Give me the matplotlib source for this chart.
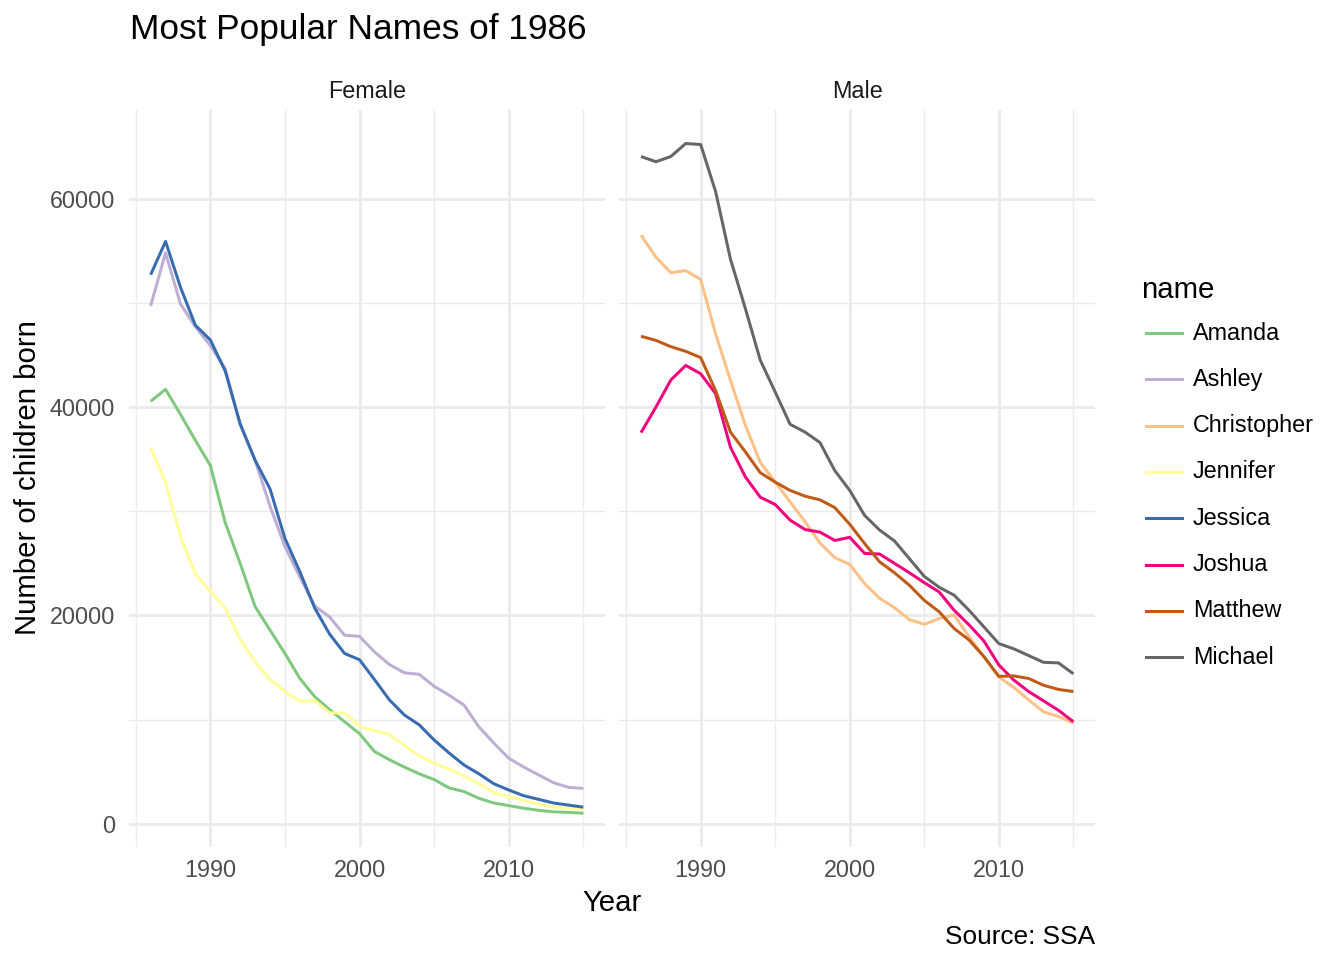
import matplotlib
matplotlib.use('Agg')
import matplotlib.pyplot as plt
from matplotlib.lines import Line2D
from matplotlib.ticker import FixedLocator

plt.rcParams['font.family'] = ['Liberation Sans', 'DejaVu Sans']

# --- data --------------------------------------------------------------
years = list(range(1986, 2016))

amanda = [40550, 41700, 39300, 36800, 34400, 28900, 25000, 20850, 18600, 16350,
          13950, 12200, 10950, 9800, 8650, 6950, 6150, 5450, 4800, 4250,
          3450, 3100, 2450, 2000, 1750, 1500, 1300, 1150, 1100, 1020]
ashley = [49700, 54800, 49900, 47700, 45900, 43700, 38300, 34900, 30500, 26600,
          23700, 20900, 19850, 18100, 18000, 16500, 15300, 14500, 14350, 13200,
          12350, 11400, 9300, 7750, 6300, 5450, 4700, 3950, 3500, 3400]
jennifer = [36100, 32800, 27600, 24000, 22300, 20700, 17700, 15550, 13850, 12700,
            11750, 11850, 10650, 10650, 9350, 8950, 8550, 7550, 6500, 5800,
            5250, 4600, 3850, 3000, 2600, 2250, 1900, 1600, 1500, 1400]
jessica = [52700, 55900, 51500, 47850, 46450, 43450, 38400, 34900, 32150, 27400,
           24200, 20700, 18200, 16350, 15750, 13850, 11900, 10450, 9500, 8050,
           6800, 5650, 4800, 3850, 3250, 2700, 2350, 2000, 1800, 1600]
christopher = [56500, 54400, 52900, 53100, 52250, 47050, 42550, 38250, 34700, 32800,
               30900, 29000, 26950, 25550, 24900, 23050, 21650, 20750, 19600, 19150,
               19700, 20050, 17950, 16050, 14100, 13100, 11900, 10750, 10300, 9700]
joshua = [37550, 40000, 42600, 44000, 43200, 41300, 36150, 33300, 31350, 30650,
          29150, 28250, 28000, 27200, 27500, 25950, 25900, 25000, 24100, 23150,
          22250, 20500, 19100, 17550, 15250, 13800, 12700, 11800, 10900, 9800]
matthew = [46800, 46400, 45800, 45350, 44750, 41600, 37600, 35700, 33700, 32800,
           32000, 31450, 31100, 30350, 28750, 26900, 25150, 24100, 22900, 21450,
           20350, 18750, 17650, 16050, 14150, 14200, 13950, 13300, 12900, 12700]
michael = [64050, 63550, 64050, 65300, 65200, 60700, 54200, 49450, 44500, 41450,
           38350, 37600, 36600, 33900, 32000, 29600, 28200, 27150, 25450, 23750,
           22700, 21950, 20500, 18900, 17300, 16800, 16150, 15500, 15450, 14400]

names = ['Amanda', 'Ashley', 'Christopher', 'Jennifer',
         'Jessica', 'Joshua', 'Matthew', 'Michael']
series = {'Amanda': amanda, 'Ashley': ashley, 'Christopher': christopher,
          'Jennifer': jennifer, 'Jessica': jessica, 'Joshua': joshua,
          'Matthew': matthew, 'Michael': michael}
sex = {'Amanda': 'Female', 'Ashley': 'Female', 'Jennifer': 'Female', 'Jessica': 'Female',
       'Christopher': 'Male', 'Joshua': 'Male', 'Matthew': 'Male', 'Michael': 'Male'}
panels = ['Female', 'Male']

# RColorBrewer "Accent"
colors = ['#7FC97F', '#BEAED4', '#FDC086', '#FFFF99',
          '#386CB0', '#F0027F', '#BF5B17', '#666666']

x_major = [1990, 2000, 2010]
x_minor = [1985, 1995, 2005, 2015]
y_major = [0, 20000, 40000, 60000]
y_minor = [10000, 30000, 50000]

# font sizes (pt)
FS_TICK = 11.7
FS_AXIS = 14.7
FS_TITLE = 17.6
FS_CAPTION = 13.1

# --- figure -------------------------------------------------------------
W, H = 1344, 960
DPI = 144
fig = plt.figure(figsize=(W / DPI, H / DPI), dpi=DPI)


def fx(px):
    return px / W


def fy(py):
    return 1 - py / H


top, bottom = 110, 846.7
lefts = [129, 619.4]
rights = [605, 1095]
axes = []
for i, panel in enumerate(panels):
    ax = fig.add_axes([fx(lefts[i]), fy(bottom), fx(rights[i] - lefts[i]),
                       (bottom - top) / H],
                      sharey=axes[0] if axes else None)
    axes.append(ax)

for ax, panel in zip(axes, panels):
    for name, col in zip(names, colors):
        if sex[name] != panel:
            continue
        ax.plot(years, series[name], color=col, lw=1.5, solid_capstyle='butt', zorder=3)
    ax.set_title(panel, fontsize=FS_TICK, color='#1A1A1A', pad=6)
    ax.xaxis.set_major_locator(FixedLocator(x_major))
    ax.xaxis.set_minor_locator(FixedLocator(x_minor))
    ax.yaxis.set_major_locator(FixedLocator(y_major))
    ax.yaxis.set_minor_locator(FixedLocator(y_minor))
    ax.grid(which='major', color='#EBEBEB', lw=1.42, zorder=0)
    ax.grid(which='minor', color='#EBEBEB', lw=0.71, zorder=0)
    ax.set_axisbelow(True)
    for s in ax.spines.values():
        s.set_visible(False)
    ax.tick_params(which='both', length=0, labelsize=FS_TICK, labelcolor='#4D4D4D')
    ax.tick_params(axis='x', pad=6)
    ax.tick_params(axis='y', pad=7)
    ax.margins(x=0.05, y=0.05)

axes[1].tick_params(axis='y', labelleft=False)

fig.text(fx(130), fy(29), 'Most Popular Names of 1986', fontsize=FS_TITLE,
         ha='left', va='center')
fig.text(fx(612), fy(903), 'Year', fontsize=FS_AXIS, ha='center', va='center')
fig.text(fx(28), fy(478), 'Number of children born', fontsize=FS_AXIS,
         rotation=90, ha='center', va='center')
fig.text(fx(1095), fy(937), 'Source: SSA', fontsize=FS_CAPTION, ha='right', va='center')

# legend
fig.text(fx(1141), fy(290), 'name', fontsize=FS_AXIS, ha='left', va='center')
for i, (name, col) in enumerate(zip(names, colors)):
    yy = 333 + i * 46.3
    fig.add_artist(Line2D([fx(1146), fx(1182)], [fy(yy), fy(yy)],
                          color=col, lw=1.5, transform=fig.transFigure))
    fig.text(fx(1193), fy(yy), name, fontsize=FS_TICK, ha='left', va='center')

fig.savefig('out.png', dpi=DPI)
